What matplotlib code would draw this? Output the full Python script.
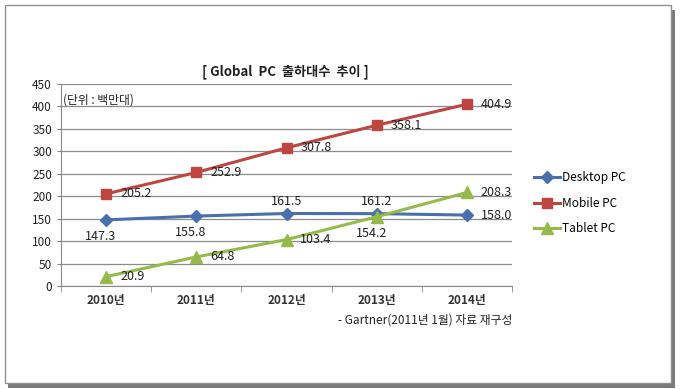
import numpy as np
import matplotlib.pyplot as plt
from matplotlib.patches import Rectangle

plt.rcParams['font.family'] = ['Noto Sans CJK KR', 'DejaVu Sans']

# ===== DATA =====
years   = ['2010년', '2011년', '2012년', '2013년', '2014년']
desktop = [147.3, 155.8, 161.5, 161.2, 158.0]
mobile  = [205.2, 252.9, 307.8, 358.1, 404.9]
tablet  = [20.9, 64.8, 103.4, 154.2, 208.3]

# label placement per point: 'r' right, 'b' below, 'a' above
desk_pos = ['b', 'b', 'a', 'a', 'r']
mob_pos  = ['r', 'r', 'r', 'r', 'r']
tab_pos  = ['r', 'r', 'r', 'b', 'r']

# ===== PLOT =====
W, H = 683, 389
fig = plt.figure(figsize=(W / 100, H / 100), dpi=100)
fig.patch.set_facecolor('white')

# outer frame with shadow
fig.patches.append(Rectangle((8 / W, 1 - 388 / H), 667 / W, 378 / H, transform=fig.transFigure,
                             facecolor='#7a7a7a', edgecolor='none', zorder=-2))
fig.patches.append(Rectangle((5 / W, 1 - 383 / H), 666 / W, 378 / H, transform=fig.transFigure,
                             facecolor='white', edgecolor='#909090', lw=1, zorder=-1))

ax = fig.add_axes([61 / W, 1 - 286 / H, 451 / W, 202 / H])
ax.set_facecolor('none')
ax.set_zorder(1)
x = np.arange(len(years))

ax.plot(x, desktop, color='#4a6fad', lw=2.2, marker='D', ms=6, label='Desktop PC', zorder=3)
ax.plot(x, mobile, color='#bf4540', lw=2.2, marker='s', ms=7, label='Mobile PC', zorder=3)
ax.plot(x, tablet, color='#95b94a', lw=2.2, marker='^', ms=8, label='Tablet PC', zorder=3)

def put_labels(vals, pos):
    for xi, v, p in zip(x, vals, pos):
        if p == 'r':
            ax.annotate(f'{v:.1f}', (xi, v), xytext=(10, 0), textcoords='offset points',
                        ha='left', va='center', fontsize=9, color='#222222')
        elif p == 'b':
            ax.annotate(f'{v:.1f}', (xi, v), xytext=(-4, -7), textcoords='offset points',
                        ha='center', va='top', fontsize=9, color='#222222')
        else:
            ax.annotate(f'{v:.1f}', (xi, v), xytext=(0, 4), textcoords='offset points',
                        ha='center', va='bottom', fontsize=9, color='#222222')

put_labels(desktop, desk_pos)
put_labels(mobile, mob_pos)
put_labels(tablet, tab_pos)

ax.set_xlim(-0.5, len(years) - 0.5)
ax.set_ylim(0, 450)
ax.set_yticks(np.arange(0, 451, 50))
ax.set_xticks(x)
ax.set_xticklabels(years, fontsize=8.5, fontweight='bold', color='#333333')
ax.set_xticks(np.arange(-0.5, len(years), 1), minor=True)
ax.tick_params(axis='x', which='major', length=0, pad=6)
ax.tick_params(axis='x', which='minor', length=4, color='#888888')
ax.tick_params(axis='y', length=3, color='#888888', labelsize=8.5, labelcolor='#222222')
ax.grid(axis='y', color='#8c8c8c', lw=0.9)
ax.set_axisbelow(True)
for s in ['top', 'right']:
    ax.spines[s].set_visible(False)
ax.spines['left'].set_color('#888888')
ax.spines['bottom'].set_color('#888888')

ax.text(0.005, 0.955, '(단위 : 백만대)', transform=ax.transAxes, fontsize=8.5,
        ha='left', va='top', color='#222222')

fig.text(285 / W, 1 - 72 / H, '[ Global  PC  출하대수  추이 ]', ha='center', va='center',
         fontsize=9.5, fontweight='bold', color='#222222')
fig.text(512 / W, 1 - 320 / H, '- Gartner(2011년 1월) 자료 재구성', ha='right', va='center',
         fontsize=8.5, color='#222222')

ax.legend(loc='center left', bbox_to_anchor=(1.025, 0.41), frameon=False, fontsize=8.5,
          handlelength=2.2, handletextpad=0.2, labelspacing=1.05)

plt.savefig('out.png', dpi=100)
